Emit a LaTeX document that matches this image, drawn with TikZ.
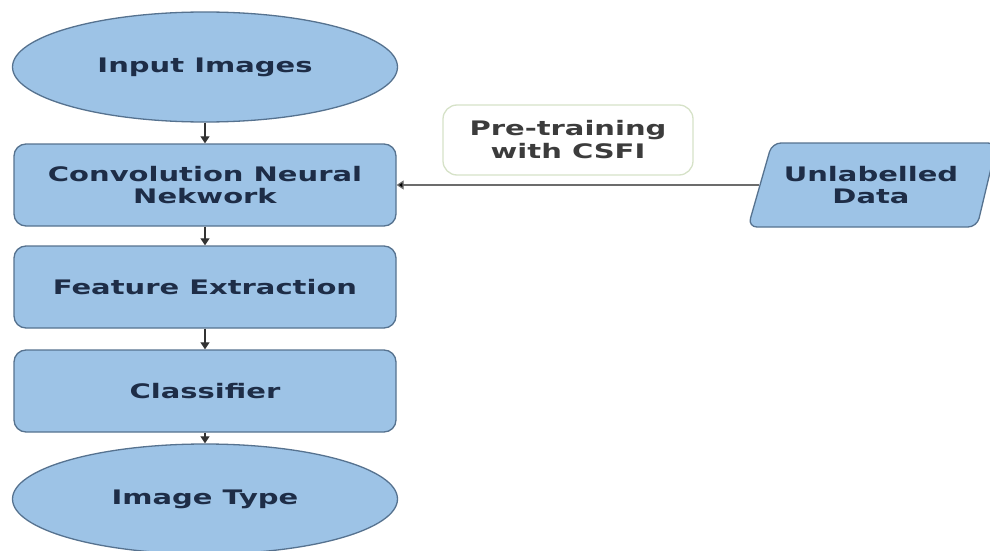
\documentclass[tikz,border=0pt]{standalone}
\usepackage{fontspec}
\usetikzlibrary{shapes.geometric,arrows.meta}
\newfontfamily\diafont[FakeStretch=1.45]{DejaVu Sans Bold}
\definecolor{nodefill}{HTML}{9DC3E6}
\definecolor{nodeline}{HTML}{56728F}
\definecolor{nodetext}{HTML}{1E2D47}
\definecolor{pretext}{HTML}{3C3C3C}
\definecolor{preline}{HTML}{D6E2C8}
\definecolor{arrowcol}{HTML}{333333}
\tikzset{
  bluebase/.style={draw=nodeline, fill=nodefill, line width=1.3pt, text=nodetext,
    font={\diafont\fontsize{20}{22}\selectfont}, align=center, inner sep=0pt},
  bluetext/.style={text=nodetext, font={\diafont\fontsize{20}{22}\selectfont}, align=center, inner sep=0pt},
  ovalnode/.style={bluebase, ellipse, minimum width=385pt, minimum height=110pt},
  procbox/.style={bluebase, rectangle, rounded corners=12pt, minimum width=382pt, minimum height=82pt},
  dataoutline/.style={draw=nodeline, fill=nodefill, line width=1.3pt, rounded corners=9pt},
  notebox/.style={draw=preline, fill=white, line width=1.3pt, rounded corners=14pt, text=pretext,
    font={\diafont\fontsize{20}{23}\selectfont}, align=center, minimum width=250pt, minimum height=70pt},
  flow/.style={draw=arrowcol, line width=1.2pt, -{Triangle[width=9pt,length=7pt]}},
  feed/.style={draw=gray!85!black, line width=1.2pt, -{Triangle[width=9pt,length=7pt,fill=black]}}
}
\begin{document}
\begin{tikzpicture}[x=1pt,y=-1pt]
\useasboundingbox (0,0) rectangle (990,551);
\clip (0,0) rectangle (990,551);
\node[ovalnode] (inp) at (205,67) {Input Images};
\node[procbox] (cnn) at (205,185) {Convolution Neural\\Nekwork};
\node[procbox] (fe) at (205,287) {Feature Extraction};
\node[procbox] (cls) at (205,391) {Classifier};
\node[ovalnode] (out) at (205,499) {Image Type};
\node[notebox] (pre) at (568,140) {Pre-training\\with CSFI};
% parallelogram (data)
\draw[dataoutline] (760,185) -- (772,143) -- (997,143) -- (977,227) -- (748,227) -- cycle;
\coordinate (udw) at (759,185);
\node[bluetext] (ud) at (871,185) {Unlabelled\\Data};
\draw[flow] (inp) -- (cnn);
\draw[flow] (cnn) -- (fe);
\draw[flow] (fe) -- (cls);
\draw[flow] (cls) -- (out);
\draw[feed] (udw) -- (cnn.east |- udw);
\end{tikzpicture}
\end{document}
